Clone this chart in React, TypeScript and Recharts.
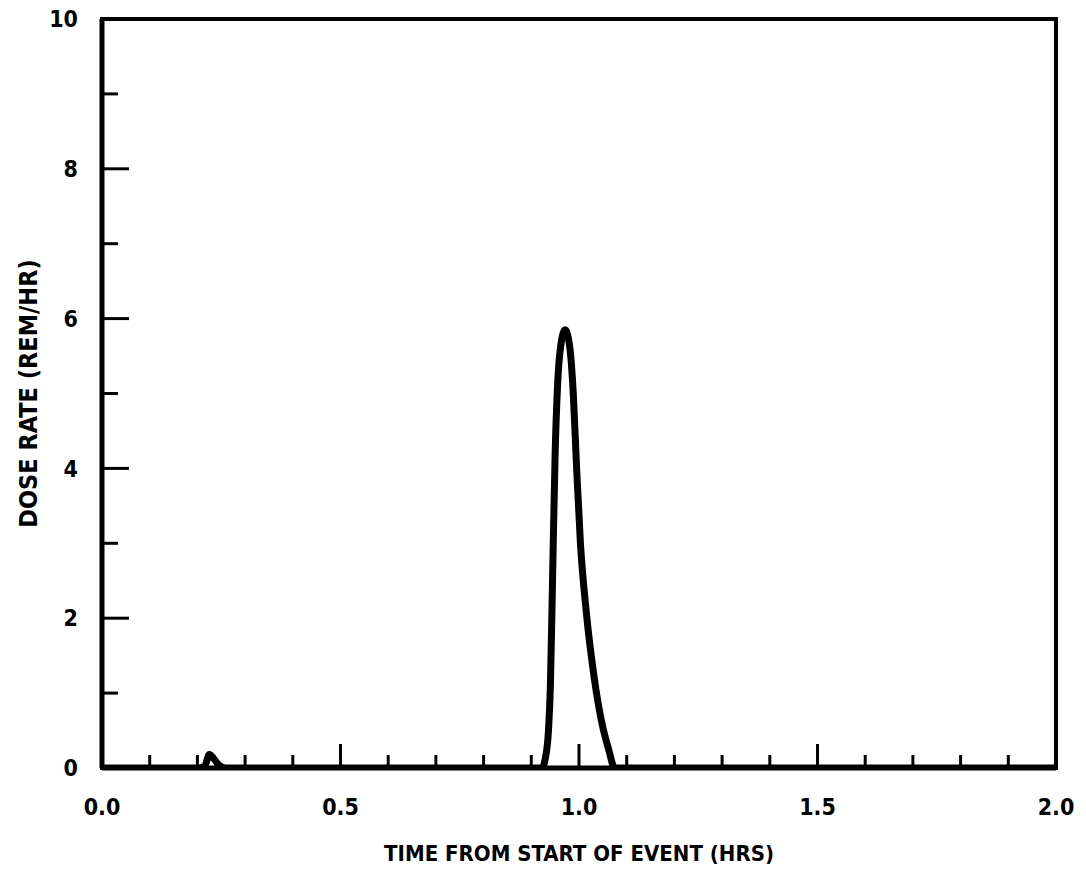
import React from 'react';
import { LineChart, Line, XAxis, YAxis, ReferenceArea, Label } from 'recharts';

const times = [0, 0.2, 0.215, 0.225, 0.235, 0.245, 0.26, 0.922, 0.93, 0.936, 0.94, 0.943, 0.946, 0.95, 0.955, 0.962, 0.971, 0.981, 0.988, 0.995, 1.003, 1.015, 1.032, 1.048, 1.062, 1.075, 2.0];
const doseRates = [0, 0, 0.02, 0.18, 0.12, 0.04, 0, 0, 0.15, 0.5, 1.1, 2.0, 3.0, 4.2, 5.1, 5.65, 5.85, 5.6, 5.0, 4.0, 3.0, 2.1, 1.2, 0.6, 0.25, 0, 0];

const xTicks = [0, 0.1, 0.2, 0.3, 0.4, 0.5, 0.6, 0.7, 0.8, 0.9, 1.0, 1.1, 1.2, 1.3, 1.4, 1.5, 1.6, 1.7, 1.8, 1.9, 2.0];
const xLabelTicks = [0, 0.5, 1.0, 1.5, 2.0];
const yTicks = [0, 1, 2, 3, 4, 5, 6, 7, 8, 9, 10];
const yLabelTicks = [0, 2, 4, 6, 8, 10];

const xTitle = 'TIME FROM START OF EVENT (HRS)';
const yTitle = 'DOSE RATE (REM/HR)';

const data = times.map((t, i) => ({ t, v: doseRates[i] }));

const FONT = '"DejaVu Sans", "Liberation Sans", sans-serif';
const TEXT_STYLE: React.CSSProperties = { fontStretch: 'condensed' };
const MARGIN = 10;

const isLabel = (v: number, list: number[]) => list.some((l) => Math.abs(l - v) < 1e-6);

const XTick = (props: any) => {
  const { x, y, payload } = props;
  const v = payload.value as number;
  const axisY = y - MARGIN;
  const major = isLabel(v, xLabelTicks);
  const inner = v > 0.001 && v < 1.999;
  return (
    <g>
      {inner && (
        <line x1={x} x2={x} y1={axisY} y2={axisY - (major ? 24 : 13)} stroke="#000" strokeWidth={3} />
      )}
      {major && (
        <text x={x} y={axisY + 47} textAnchor="middle" fontFamily={FONT} fontWeight="bold" fontSize={23} fill="#000" style={TEXT_STYLE}>
          {v.toFixed(1)}
        </text>
      )}
    </g>
  );
};

const YTick = (props: any) => {
  const { x, y, payload } = props;
  const v = payload.value as number;
  const axisX = x + MARGIN;
  const major = isLabel(v, yLabelTicks);
  const inner = v > 0.001 && v < 9.999;
  return (
    <g>
      {inner && (
        <line x1={axisX} x2={axisX + (major ? 27 : 16)} y1={y} y2={y} stroke="#000" strokeWidth={3} />
      )}
      {major && (
        <text x={axisX - 24} y={y} dy="0.36em" textAnchor="end" fontFamily={FONT} fontWeight="bold" fontSize={23} fill="#000" style={TEXT_STYLE}>
          {String(v)}
        </text>
      )}
    </g>
  );
};

const YTitle = (props: any) => {
  const vb = props.viewBox || { x: 0, y: 0, width: 0, height: 0 };
  const cx = vb.x + 28;
  const cy = vb.y + vb.height / 2;
  return (
    <text x={cx} y={cy} transform={`rotate(-90, ${cx}, ${cy})`} textAnchor="middle" dominantBaseline="central" fontFamily={FONT} fontWeight="bold" fontSize={25} fill="#000" style={TEXT_STYLE}>
      {yTitle}
    </text>
  );
};

const XTitle = (props: any) => {
  const vb = props.viewBox || { x: 0, y: 0, width: 0, height: 0 };
  const cx = vb.x + vb.width / 2;
  const cy = vb.y + 85;
  return (
    <text x={cx} y={cy} textAnchor="middle" dominantBaseline="central" fontFamily={FONT} fontWeight="bold" fontSize={22} fill="#000" style={TEXT_STYLE}>
      {xTitle}
    </text>
  );
};

export default function App() {
  return (
    <div style={{ width: 1086, height: 873, margin: '-8px 0 0 -8px', background: '#fff' }}>
      <LineChart width={1086} height={873} data={data} margin={{ top: 19, right: 30, left: 0, bottom: 0 }}>
        <ReferenceArea x1={0} x2={2} y1={0} y2={10} fill="none" stroke="#000" strokeWidth={4} ifOverflow="visible" />
        <XAxis
          type="number"
          dataKey="t"
          domain={[0, 2]}
          ticks={xTicks}
          interval={0}
          height={105}
          tickSize={0}
          tickMargin={MARGIN}
          tickLine={false}
          axisLine={{ stroke: '#000', strokeWidth: 5 }}
          tick={<XTick />}
          allowDataOverflow
        >
          <Label content={<XTitle />} />
        </XAxis>
        <YAxis
          type="number"
          domain={[0, 10]}
          ticks={yTicks}
          interval={0}
          width={102}
          tickSize={0}
          tickMargin={MARGIN}
          tickLine={false}
          axisLine={{ stroke: '#000', strokeWidth: 5 }}
          tick={<YTick />}
          allowDataOverflow
        >
          <Label content={<YTitle />} />
        </YAxis>
        <Line
          type="monotone"
          dataKey="v"
          stroke="#000"
          strokeWidth={7}
          dot={false}
          isAnimationActive={false}
          strokeLinejoin="round"
          strokeLinecap="round"
        />
      </LineChart>
    </div>
  );
}
